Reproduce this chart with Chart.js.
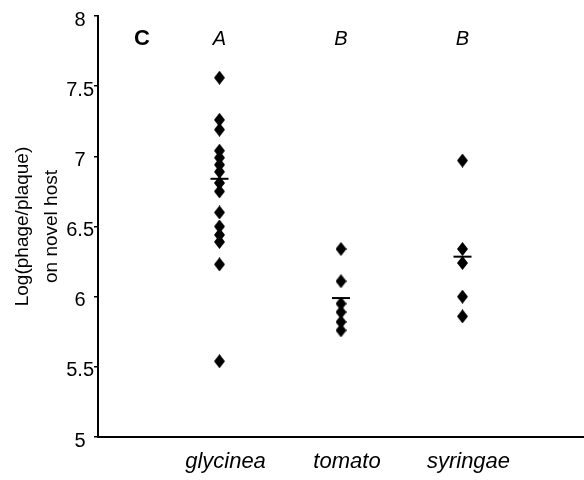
<!DOCTYPE html>
<html>
<head>
<meta charset="utf-8">
<script src="https://cdn.jsdelivr.net/npm/chart.js@4.4.1/dist/chart.umd.min.js"></script>
<style>
  html, body { margin: 0; padding: 0; background: #fff; }
</style>
</head>
<body>
<canvas id="myChart" width="584" height="480"></canvas>
<script>
var categories = ['glycinea', 'tomato', 'syringae'];
var groupLetters = ['A', 'B', 'B'];
var glycinea = [7.56, 7.26, 7.19, 7.04, 6.99, 6.94, 6.89, 6.81, 6.75, 6.60, 6.50, 6.44, 6.39, 6.23, 5.54];
var tomato = [6.34, 6.11, 5.95, 5.89, 5.82, 5.76];
var syringae = [6.97, 6.34, 6.24, 6.00, 5.86];
var centerLines = [6.84, 5.99, 6.285];
var yTicks = [5, 5.5, 6, 6.5, 7, 7.5, 8];

var groups = [glycinea, tomato, syringae];

// diamond marker, a bit taller than wide like the original
var diamond = document.createElement('canvas');
diamond.width = 11;
diamond.height = 14;
var dc = diamond.getContext('2d');
dc.fillStyle = '#000';
dc.beginPath();
dc.moveTo(5.5, 0);
dc.lineTo(11, 7);
dc.lineTo(5.5, 14);
dc.lineTo(0, 7);
dc.closePath();
dc.fill();

var pointData = [];
groups.forEach(function(vals, i) {
    vals.forEach(function(v) {
        pointData.push({x: i + 1, y: v});
    });
});
var lineData = centerLines.map(function(v, i) { return {x: i + 1, y: v}; });

// letters above each group and the panel letter
var lettersPlugin = {
    id: 'letters',
    afterDraw: function(chart) {
        var ctx = chart.ctx;
        var xs = chart.scales.x;
        ctx.save();
        ctx.fillStyle = '#000';
        ctx.textBaseline = 'middle';
        ctx.textAlign = 'center';
        ctx.font = 'italic 20px "Liberation Sans", Arial, sans-serif';
        groupLetters.forEach(function(l, i) {
            ctx.fillText(l, xs.getPixelForValue(i + 1), 39);
        });
        ctx.font = 'bold 22px "Liberation Sans", Arial, sans-serif';
        ctx.fillText('C', 142, 39);
        ctx.restore();
    }
};

var ctx = document.getElementById('myChart').getContext('2d');
var chart = new Chart(ctx, {
    type: 'scatter',
    data: {
        datasets: [{
            data: pointData,
            pointStyle: diamond,
            radius: 6,
            backgroundColor: '#000',
            borderColor: '#000'
        }, {
            data: lineData,
            pointStyle: 'line',
            radius: 9,
            borderWidth: 2,
            borderColor: '#000',
            backgroundColor: '#000'
        }]
    },
    options: {
        responsive: false,
        animation: false,
        events: [],
        layout: {
            autoPadding: false,
            padding: {top: 16, right: 0, bottom: 0, left: 0}
        },
        plugins: {
            legend: {display: false},
            tooltip: {enabled: false}
        },
        scales: {
            x: {
                type: 'linear',
                min: 0,
                max: 4,
                afterFit: function(s) { s.height = 43; },
                afterBuildTicks: function(s) {
                    s.ticks = categories.map(function(c, i) { return {value: i + 1}; });
                },
                ticks: {
                    padding: 12,
                    labelOffset: 6,
                    color: '#000',
                    font: {family: '"Liberation Sans", Arial, sans-serif', size: 22, style: 'italic'},
                    callback: function(v) { return categories[v - 1]; }
                },
                grid: {display: false, drawTicks: false},
                border: {display: true, color: '#000', width: 2}
            },
            y: {
                min: 5,
                max: 8,
                afterFit: function(s) { s.width = 98; },
                afterBuildTicks: function(s) {
                    s.ticks = yTicks.map(function(v) { return {value: v}; });
                },
                ticks: {
                    padding: 0,
                    labelOffset: 4,
                    crossAlign: 'center',
                    color: '#000',
                    font: {family: '"Liberation Sans", Arial, sans-serif', size: 20},
                    callback: function(v) { return String(v); }
                },
                grid: {
                    drawOnChartArea: false,
                    drawTicks: true,
                    tickLength: 4,
                    color: '#000',
                    lineWidth: 1.5
                },
                border: {display: true, color: '#000', width: 2},
                title: {
                    display: true,
                    text: ['Log(phage/plaque)', 'on novel host'],
                    color: '#000',
                    padding: {top: 9, bottom: 0},
                    font: {family: '"Liberation Sans", Arial, sans-serif', size: 19, lineHeight: 1.5}
                }
            }
        }
    },
    plugins: [lettersPlugin]
});
</script>
</body>
</html>
